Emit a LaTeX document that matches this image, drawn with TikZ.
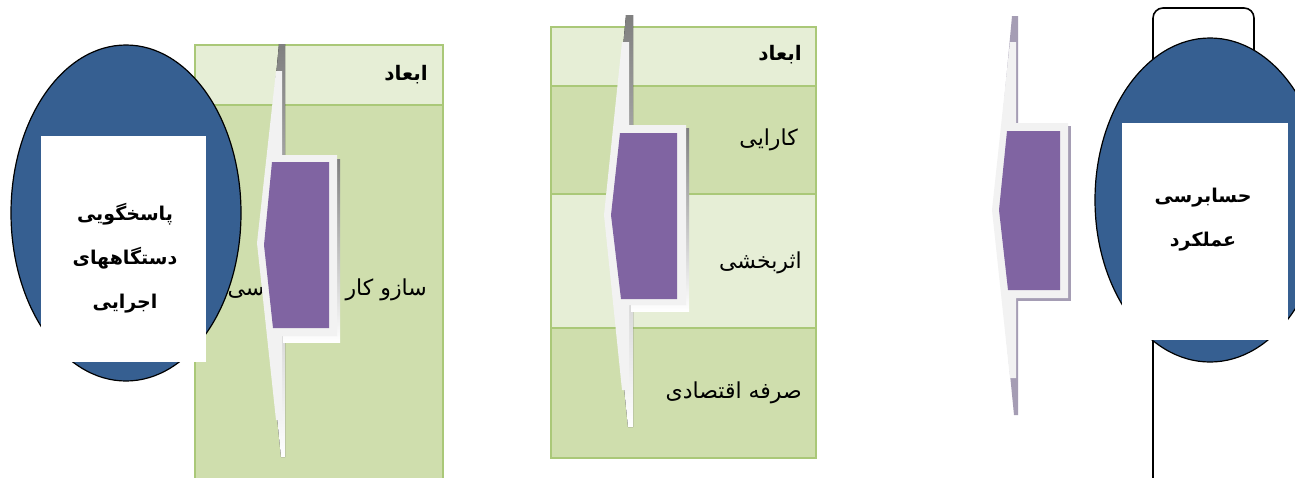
\documentclass[tikz,border=0pt]{standalone}
\usepackage{fontspec}
\newfontfamily\fafont[Script=Arabic]{DejaVu Sans}
\TeXXeTstate=1
\definecolor{ellblue}{RGB}{54,95,145}
\definecolor{gline}{RGB}{170,200,120}
\definecolor{glight}{RGB}{230,238,214}
\definecolor{gdark}{RGB}{207,222,173}
\definecolor{purp}{RGB}{128,100,162}
\definecolor{stripc}{RGB}{242,242,242}
\definecolor{shade}{RGB}{140,140,140}
\definecolor{shadep}{RGB}{165,157,180}
\tikzset{
  cell/.style={draw=gline, line width=2.5pt},
  lbl/.style={anchor=east, inner sep=0pt, font=\fafont\fontsize{22}{26}\selectfont},
  hdr/.style={anchor=east, inner sep=0pt, font=\fafont\bfseries\fontsize{20}{24}\selectfont},
  ell/.style={draw=black, line width=1.2pt, fill=ellblue},
  title/.style={align=center, inner sep=0pt, font=\fafont\bfseries\fontsize{19}{44}\selectfont},
  outl/.style={draw=black, line width=1.6pt, rounded corners=10pt},
}
\begin{document}
\begin{tikzpicture}[x=1pt,y=-1pt]
\useasboundingbox (0,0) rectangle (1295,477);
\fill[white] (0,0) rectangle (1295,477);
% ---------- left table
\fill[gdark] (195,45) rectangle (443,490);
\fill[glight] (195,45) rectangle (443,105);
\draw[cell] (195,105) -- (443,105);
\draw[cell] (195,490) -- (195,45) -- (443,45) -- (443,490);
% left ellipse
\draw[ell] (126,213) ellipse [x radius=115pt, y radius=168pt];
\fill[white] (41,136) rectangle (206,362);
\node[title] (acc) at (125,258) {\beginR پاسخگویی\endR\\\beginR دستگاههای\endR\\\beginR اجرایی\endR};
\node[hdr] (dimL) at (428,75) {\beginR ابعاد\endR};
\node[lbl] (mechL) at (427,290) {\beginR سازو کار های سیاسی\endR};
% left arrow
\fill[shade] (279,44) -- (285,44) -- (285,457) -- (281,457) -- (260,246) -- cycle;
\fill[shade] (283,159) rectangle (340,342);
\fill[stripc] (276,71) -- (282,71) -- (282,155) -- (337,155) -- (337,336) -- (282,336) -- (282,420) -- (276,420) -- (257,243) -- cycle;
\fill[purp] (272,162) -- (329,162) -- (329,328) -- (273,328) -- (264,245) -- cycle;
% ---------- middle table
\fill[glight] (551,27) rectangle (816,86);
\fill[gdark] (551,86) rectangle (816,194);
\fill[glight] (551,194) rectangle (816,328);
\fill[gdark] (551,328) rectangle (816,458);
\draw[cell] (551,86) -- (816,86) (551,194) -- (816,194) (551,328) -- (816,328);
\draw[cell] (551,27) rectangle (816,458);
\node[hdr] (dimM) at (802,55) {\beginR ابعاد\endR};
\node[lbl] (eff1) at (798,140) {\beginR کارایی\endR};
\node[lbl] (eff2) at (802,263) {\beginR اثربخشی\endR};
\node[lbl] (econ) at (802,393) {\beginR صرفه اقتصادی\endR};
% middle arrow
\fill[shade] (626,15) -- (633,15) -- (633,427) -- (628,427) -- (607,218) -- cycle;
\fill[shade] (631,128) rectangle (689,311);
\fill[stripc] (622,42) -- (629,42) -- (629,125) -- (686,125) -- (686,305) -- (629,305) -- (629,390) -- (622,390) -- (604,215) -- cycle;
\fill[purp] (620,133) -- (677,133) -- (677,299) -- (621,299) -- (611,215) -- cycle;
% ---------- right arrow
\fill[shadep] (1012,16) -- (1018,16) -- (1018,415) -- (1014,415) -- (994,212) -- cycle;
\fill[shadep] (1016,126) rectangle (1071,301);
\fill[stripc] (1010,42) -- (1016,42) -- (1016,123) -- (1068,123) -- (1068,298) -- (1016,298) -- (1016,378) -- (1010,378) -- (992,210) -- cycle;
\fill[purp] (1007,131) -- (1060,131) -- (1060,290) -- (1008,290) -- (999,210) -- cycle;
% right box and ellipse
\draw[outl] (1254,80) -- (1254,8) -- (1153,8) -- (1153,490);
\draw[ell] (1210,200) ellipse [x radius=115pt, y radius=162pt];
\fill[white] (1122,123) rectangle (1288,340);
\node[title] (audit) at (1203,220) {\beginR حسابرسی\endR\\\beginR عملکرد\endR};
\end{tikzpicture}
\end{document}
